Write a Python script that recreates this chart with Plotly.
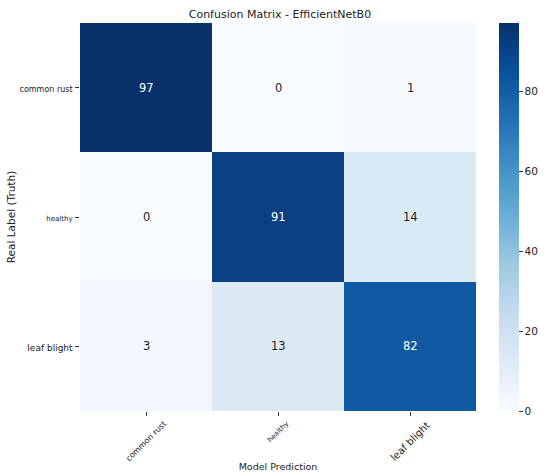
#confusion matrix heatmap for EfficientNetB0
import plotly.graph_objects as go
import plotly.express as px

class_names = ["common rust", "healthy", "leaf blight"]
# rows = real label, columns = model prediction
cm_values = [
    [97, 0, 1],
    [0, 91, 14],
    [3, 13, 82],
]
colorbar_ticks = [0, 20, 40, 60, 80]

# the original tick labels come in odd sizes, keep that
x_tick_sizes = [8, 7, 10]
y_tick_sizes = [8, 7, 9]

FONT = "DejaVu Sans"
vmax = max(max(r) for r in cm_values)

fig = go.Figure()
fig.add_trace(go.Heatmap(
    z=cm_values,
    x=class_names,
    y=class_names,
    colorscale=px.colors.sequential.Blues,
    zmin=0,
    zmax=vmax,
    showscale=True,
    colorbar=dict(
        thickness=20,
        len=1,
        lenmode="fraction",
        x=1.0575,
        xanchor="left",
        y=0.5,
        yanchor="middle",
        xpad=0,
        ypad=0,
        outlinewidth=0,
        tickvals=colorbar_ticks,
        ticks="outside",
        ticklen=4,
        tickcolor="#333",
        tickfont=dict(family=FONT, size=10.5, color="#222"),
    ),
))

# numbers in the cells, white on dark blue
for i, row in enumerate(cm_values):
    for j, v in enumerate(row):
        fig.add_annotation(
            x=class_names[j], y=class_names[i], text=str(v), showarrow=False,
            font=dict(family=FONT, size=11.5, color="white" if v > vmax * 0.6 else "#222"),
        )

# x tick labels: rotated 45 but centred under the tick (matplotlib style),
# plotly would right-align them so draw them as annotations instead
for name, s in zip(class_names, x_tick_sizes):
    fig.add_annotation(
        x=name, xref="x", y=0, yref="paper", text=name, showarrow=False,
        textangle=-45, xanchor="center", yanchor="top", yshift=-6,
        font=dict(family=FONT, size=s, color="#222"),
    )

y_ticktext = [f"<span style='font-size:{s}px'>{n}</span>" for n, s in zip(class_names, y_tick_sizes)]

fig.update_layout(
    width=550,
    height=476,
    margin=dict(l=80, r=70, t=23, b=65),
    paper_bgcolor="white",
    plot_bgcolor="white",
    font=dict(family=FONT, color="#222"),
    title=dict(text="Confusion Matrix - EfficientNetB0", x=0.509, xanchor="center",
               y=0.971, yanchor="middle", font=dict(family=FONT, size=11, color="#222")),
    xaxis=dict(
        title=dict(text="Model Prediction", font=dict(family=FONT, size=9.5), standoff=48),
        tickvals=class_names, showticklabels=False, automargin=False,
        ticks="outside", ticklen=4, tickcolor="#333", showgrid=False, zeroline=False,
    ),
    yaxis=dict(
        title=dict(text="Real Label (Truth)", font=dict(family=FONT, size=10.5), standoff=1),
        tickvals=class_names, ticktext=y_ticktext, autorange="reversed", automargin=False,
        ticks="outside", ticklen=4, tickcolor="#333", showgrid=False, zeroline=False,
    ),
)

# browser puts an 8px margin on the body, drop it so the figure fills the window
fig.write_html("out.html", config={"displayModeBar": False},
               post_script="document.body.style.margin='0';")
